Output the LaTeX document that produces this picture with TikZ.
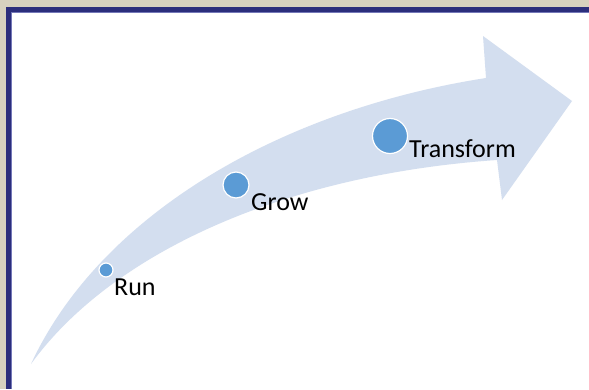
\documentclass[tikz,border=0pt]{standalone}
\usepackage{fontspec}
\setmainfont{Carlito}
\usetikzlibrary{calc,positioning}
\definecolor{mattebeige}{HTML}{D6D1BF}
\definecolor{framenavy}{HTML}{2B2E7C}
\definecolor{frameedge}{HTML}{7478B8}
\definecolor{arrowfill}{HTML}{D3DEEF}
\definecolor{dotblue}{HTML}{5B9BD5}

\begin{document}
\begin{tikzpicture} [x=1pt,y=-1pt,{dot/.style={circle,fill=dotblue,draw=white,line width=1.2pt,inner sep=0pt}},{lbl/.style={anchor=base west,inner sep=0pt,font=\fontsize{26}{31}\selectfont,text=black}}]
	\useasboundingbox (0,0) rectangle (589,389);
	%%matte and frame
	\fill [mattebeige] (0,0) rectangle (589,389);
	\fill [white] (6,7) rectangle (589,389);
	\fill [framenavy] (6,7) rectangle (589,12);
	\fill [framenavy] (6,7) rectangle (11,389);
	\draw [frameedge,line width=0.8pt] (11.4,389) -- (11.4,12.4) -- (589,12.4);
	%%corners of the curved arrow
	\coordinate (T) at (31,364);
	\coordinate (U) at (486,78);
	\coordinate (H1) at (483,36);
	\coordinate (P) at (572,101);
	\coordinate (H2) at (502,200);
	\coordinate (L) at (497,160);
	%%arrow body
	\fill [arrowfill] (T) .. controls (100,215) and (280,110) .. (U) -- (H1) -- (P) -- (H2) -- (L) .. controls (280,175) and (110,255) .. (T) -- cycle;
	%%stages
	\node [dot,minimum size=14pt] (run) at (106,270) {};
	\node [dot,minimum size=26pt] (grow) at (236,185) {};
	\node [dot,minimum size=35pt] (transform) at (390,136) {};
	\node [lbl] (runlabel) at ($(run)+(8,25)$) {Run};
	\node [lbl] (growlabel) at ($(grow)+(15,25)$) {Grow};
	\node [lbl] (transformlabel) at ($(transform)+(19,21)$) {Transform};
\end{tikzpicture}
\end{document}
